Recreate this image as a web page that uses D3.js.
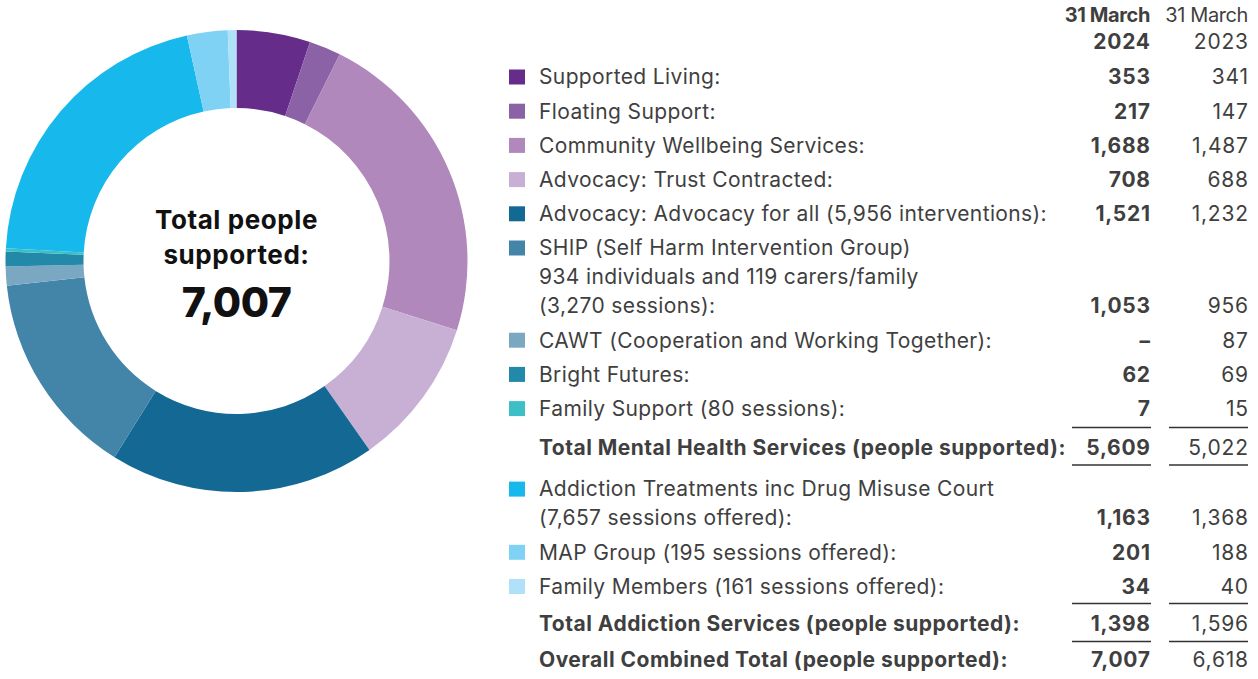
<!DOCTYPE html>
<html><head><meta charset="utf-8">
<script src="https://cdn.jsdelivr.net/npm/d3@7"></script>
<style>
html,body{margin:0;padding:0;background:#fff;}
svg{display:block;}
text{font-family:Inter,"Open Sans",sans-serif;}
</style></head>
<body>
<svg id="chart" width="1258" height="679"></svg>
<script>
// ---- data ----
const categories = [
  ["Supported Living:"],
  ["Floating Support:"],
  ["Community Wellbeing Services:"],
  ["Advocacy: Trust Contracted:"],
  ["Advocacy: Advocacy for all (5,956 interventions):"],
  ["SHIP (Self Harm Intervention Group)", "934 individuals and 119 carers/family", "(3,270 sessions):"],
  ["CAWT (Cooperation and Working Together):"],
  ["Bright Futures:"],
  ["Family Support (80 sessions):"],
  ["Addiction Treatments inc Drug Misuse Court", "(7,657 sessions offered):"],
  ["MAP Group (195 sessions offered):"],
  ["Family Members (161 sessions offered):"]
];
const values2024 = [353, 217, 1688, 708, 1521, 1053, null, 62, 7, 1163, 201, 34];
const values2023 = [341, 147, 1487, 688, 1232, 956, 87, 69, 15, 1368, 188, 40];
const colors = ["#652d89","#8b62a6","#b088bb","#c8b0d5","#136894","#4385a9","#7aa8c3","#2289a8","#3cc0c6","#17b9ed","#80d2f5","#afe2f8"];
const headers2024 = ["31 March", "2024"];
const headers2023 = ["31 March", "2023"];
const totalLabels = ["Total Mental Health Services (people supported):", "Total Addiction Services (people supported):", "Overall Combined Total (people supported):"];
const totals2024 = [5609, 1398, 7007];
const totals2023 = [5022, 1596, 6618];
const centerLines = ["Total people", "supported:"];
const centerValue = "7,007";

// ---- drawing ----
const svg = d3.select("#chart");
const fmt = d3.format(",");
const textCol = "#3f3f3f";
const fs = 21;

// measure helper: letter-spacing so that a sample string reaches a target width
function spacingFor(sample, size, weight, target) {
  const t = svg.append("text").style("font-size", size + "px").style("font-weight", weight).text(sample);
  const w = t.node().getComputedTextLength();
  t.remove();
  return (target - w) / sample.length;
}
const lsReg = spacingFor(categories[4][0], fs, 400, 508);
const lsBold = spacingFor(totalLabels[0], fs, 700, 527);
const lsCenter = spacingFor(centerLines[0], 26, 700, 163);
const lsNumB = spacingFor("1,688", fs, 700, 60);
const lsNumR = spacingFor("1,232", fs, 400, 57);

// donut
const cx = 236.5, cy = 261, rOut = 231, rIn = 153;
const pie = d3.pie().sort(null).value(d => d);
const arc = d3.arc().innerRadius(rIn).outerRadius(rOut);
const gD = svg.append("g").attr("transform", `translate(${cx},${cy})`);
gD.selectAll("path").data(pie(values2023)).join("path")
  .attr("d", arc).attr("fill", (d,i) => colors[i]);
[[centerLines[0], -41], [centerLines[1], -6]].forEach(([s, yy]) => {
  gD.append("text").attr("text-anchor","middle").attr("y",yy).attr("dy","0.35em")
    .style("font-weight",700).style("font-size","26px").style("letter-spacing", lsCenter + "px")
    .attr("fill","#111").text(s);
});
gD.append("text").attr("text-anchor","middle").attr("y",42).attr("dy","0.35em")
  .style("font-weight",800).style("font-size","41px").style("letter-spacing","-0.5px").attr("fill","#111").text(centerValue);

// table
const xSq = 509, xLab = 539, xC1 = 1150, xC2 = 1248;
const g = svg.append("g").style("font-size", fs + "px").attr("fill", textCol);

function txt(x, y, s, bold, anchor, ls) {
  return g.append("text").attr("x", x).attr("y", y).attr("dy","0.35em")
    .attr("text-anchor", anchor || "start")
    .style("letter-spacing", (ls != null ? ls : (bold ? lsBold : lsReg)) + "px")
    .style("font-weight", bold ? 700 : 400).text(s);
}
function num(x, y, s, bold) { const ls = bold ? lsNumB : lsNumR; return txt(x + ls, y, s, bold, "end", ls); }
function rule(y) {
  g.append("line").attr("x1",1072).attr("x2",xC1+1).attr("y1",y).attr("y2",y).attr("stroke","#333").attr("stroke-width",1.5);
  g.append("line").attr("x1",1169).attr("x2",xC2).attr("y1",y).attr("y2",y).attr("stroke","#333").attr("stroke-width",1.5);
}

// headers
txt(xC1, 15, headers2024[0], true, "end", -0.4).style("font-size","20px");
num(xC1, 42, headers2024[1], true);
txt(xC2, 15, headers2023[0], false, "end", -0.4).style("font-size","20px");
num(xC2, 42, headers2023[1], false);

const rowStep = 34.2, lineStep = 29;
let y = 77;
categories.forEach((lines, i) => {
  if (i === 9) { // after mental health block
    const rY = y - rowStep + 19;
    rule(rY);
    txt(xLab, rY + 20.5, totalLabels[0], true);
    num(xC1, rY + 20.5, fmt(totals2024[0]), true);
    num(xC2, rY + 20.5, fmt(totals2023[0]), false);
    rule(rY + 37.5);
    y = rY + 61.5;
  }
  g.append("rect").attr("x", xSq).attr("y", y - 7.5).attr("width", 16).attr("height", 15).attr("fill", colors[i]);
  lines.forEach((l, k) => txt(xLab, y + k * lineStep, l, false));
  const ly = y + (lines.length - 1) * lineStep;
  num(xC1, ly, values2024[i] == null ? "–" : fmt(values2024[i]), true);
  num(xC2, ly, fmt(values2023[i]), false);
  y = ly + rowStep;
});
{
  const rY = y - rowStep + 17;
  rule(rY);
  txt(xLab, rY + 20, totalLabels[1], true);
  num(xC1, rY + 20, fmt(totals2024[1]), true);
  num(xC2, rY + 20, fmt(totals2023[1]), false);
  rule(rY + 38);
  txt(xLab, rY + 56, totalLabels[2], true);
  num(xC1, rY + 56, fmt(totals2024[2]), true);
  num(xC2, rY + 56, fmt(totals2023[2]), false);
}
</script>
</body></html>
